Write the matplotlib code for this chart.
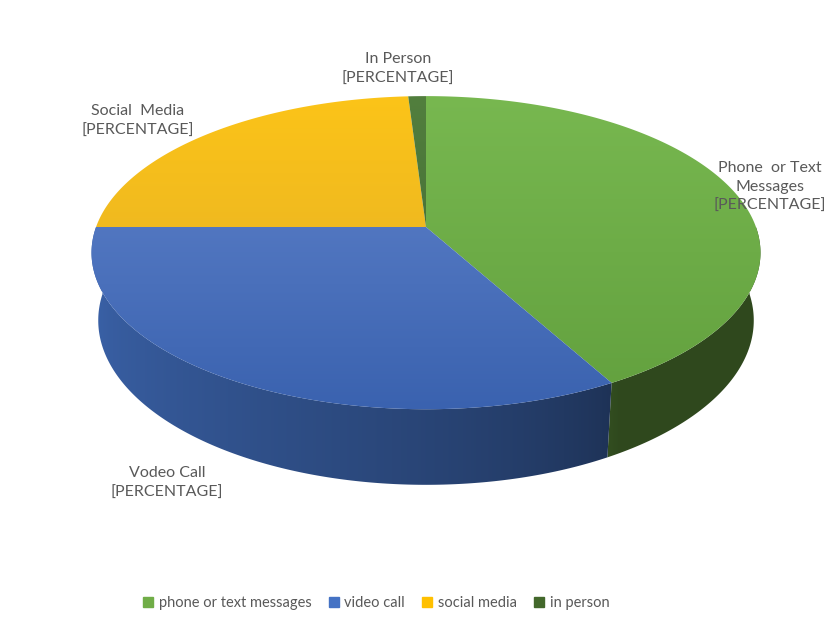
import numpy as np
import matplotlib.pyplot as plt
from matplotlib.lines import Line2D
from matplotlib.patches import Polygon

categories = ["phone or text messages", "video call", "social media", "in person"]
shares = [42, 33, 24, 1]
slice_labels = [
    "Phone  or Text\nMessages\n[PERCENTAGE]",
    "Vodeo Call\n[PERCENTAGE]",
    "Social  Media\n[PERCENTAGE]",
    "In Person\n[PERCENTAGE]",
]

# flat colours (legend + side walls) and the light/dark ends of the top-face gradient
base_colors = ["#70AD47", "#4472C4", "#FFC000", "#43682B"]
top_light = ["#78B850", "#6285CD", "#FCC418", "#527F3E"]
top_dark = ["#62A03E", "#3A62AF", "#E0AC2A", "#3E6530"]

# label anchor points relative to the pie centre (screen px, y up)
label_pos = [(344, 40), (-259, -256), (-288, 106), (-28, 158)]

TILT = np.radians(27.5)
DIST = 5.41
FOCAL = 1785.0
DEPTH = 0.2335
TEXT = "#595959"

plt.rcParams["font.family"] = ["Lato", "DejaVu Sans"]


def project(t, z=0.0):
    """Perspective projection of a point on the unit disc rim (angle t, height z)."""
    x, y = np.cos(t), np.sin(t)
    s, c = np.sin(TILT), np.cos(TILT)
    depth = DIST + y * c - z * s
    return FOCAL * x / depth, FOCAL * (y * s + z * c) / depth


def shade(t):
    # side walls get darker towards the right-hand side
    k = np.clip((-np.degrees(t) - 60) / 120, 0, 1) ** 0.7
    return 0.42 + 0.48 * k


def rgb(h):
    h = h.lstrip("#")
    return np.array([int(h[i:i + 2], 16) for i in (0, 2, 4)]) / 255


def clipped_image(ax, verts, img, extent):
    patch = Polygon(verts, closed=True, facecolor="none", edgecolor="none")
    ax.add_patch(patch)
    im = ax.imshow(img, extent=extent, origin="upper", aspect="auto",
                   interpolation="bilinear")
    im.set_clip_path(patch)


fig = plt.figure(figsize=(8.3, 6.27), dpi=100)
ax = fig.add_axes([0, 0, 1, 1])

cum = np.concatenate([[0], np.cumsum(shares)]) / np.sum(shares)
starts = np.radians(90 - 360 * cum[:-1])
ends = np.radians(90 - 360 * cum[1:])

tt = np.linspace(0, 2 * np.pi, 720)
rx, ry = project(tt)
x_lo, x_hi = rx.min() - 2, rx.max() + 2
y_top, y_bot = ry.max() + 2, ry.min() - 2
wall_bot = project(-np.pi / 2, -DEPTH)[1] - 2

# horizontal shading map for the front wall: screen x -> rim angle -> brightness
tf = np.linspace(-np.pi + 0.17, -0.17, 2000)
xf = project(tf)[0]
xs = np.linspace(x_lo, x_hi, 600)
wall_shade = shade(np.interp(xs, xf, tf))

# side walls, front half only
for i in range(len(shares)):
    a0, a1 = starts[i], ends[i]
    for off in (0, -2 * np.pi, 2 * np.pi):
        lo = max(a1 + off, -np.pi)
        hi = min(a0 + off, 0.0)
        if hi <= lo:
            continue
        ts = np.linspace(lo, hi, 200)
        tx, ty = project(ts)
        bx, by = project(ts[::-1], -DEPTH)
        verts = np.column_stack([np.r_[tx, bx], np.r_[ty, by]])
        img = np.clip(wall_shade[None, :, None] * rgb(base_colors[i]), 0, 1)
        img = np.repeat(img, 2, axis=0)
        clipped_image(ax, verts, img, [x_lo, x_hi, wall_bot, 2])

# top face: one vertical gradient per slice, clipped to the wedge
for i in range(len(shares)):
    ts = np.linspace(starts[i], ends[i], max(int(shares[i] * 8), 8))
    px, py = project(ts)
    verts = np.column_stack([np.r_[0, px], np.r_[0, py]])
    mix = np.linspace(0, 1, 256)[:, None, None]
    grad = (1 - mix) * rgb(top_light[i]) + mix * rgb(top_dark[i])
    grad = np.repeat(grad, 2, axis=1)
    clipped_image(ax, verts, grad, [x_lo, x_hi, y_bot, y_top])

for text, (lx, ly) in zip(slice_labels, label_pos):
    ax.text(lx, ly, text, ha="center", va="center", fontsize=11.5,
            color=TEXT, linespacing=1.45)

ax.set_xlim(-426, 404)
ax.set_ylim(-400, 227)
ax.axis("off")

handles = [Line2D([], [], marker="s", linestyle="none", markersize=7,
                  markerfacecolor=c, markeredgecolor=c) for c in base_colors]
fig.legend(handles, categories, loc="center", bbox_to_anchor=(0.452, 0.038),
           ncol=4, frameon=False, fontsize=10.5, labelcolor=TEXT,
           handletextpad=0.2, columnspacing=1.05, handlelength=1.0)

fig.savefig("out.png", dpi=100)
